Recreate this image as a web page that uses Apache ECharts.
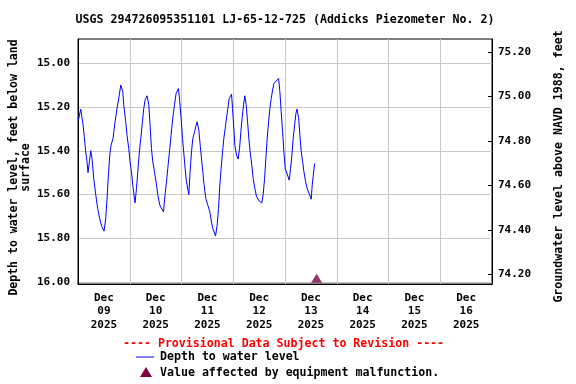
<!DOCTYPE html>
<html>
<head>
<meta charset="utf-8">
<script src="https://cdn.jsdelivr.net/npm/echarts@6/dist/echarts.min.js"></script>
<style>html,body{margin:0;padding:0;background:#fff;}#c{width:576px;height:384px;}</style>
</head>
<body>
<div id="c"></div>
<script>
// hours since 2025-12-09 00:00
const hours = [0.19,1.25,2.32,2.97,3.57,4.18,4.64,5.29,5.90,6.50,7.29,8.22,9.14,10.07,11.00,12.07,12.86,13.46,14.11,14.72,15.32,16.25,17.18,18.10,19.03,19.82,20.75,21.21,22.14,22.75,23.53,24.14,24.79,25.39,26.46,27.11,27.71,28.32,29.11,29.89,30.50,31.10,32.03,32.82,33.42,34.07,34.68,35.47,36.21,37.00,37.93,39.64,40.39,41.04,41.64,42.43,43.17,43.96,44.75,45.49,46.61,47.21,47.81,48.46,49.07,49.67,50.32,51.39,51.99,52.64,53.24,54.03,54.64,55.24,56.03,56.73,57.28,57.89,58.49,59.28,60.21,61.14,61.92,62.53,63.78,64.52,65.17,65.78,66.38,67.03,67.63,68.24,68.89,69.49,70.09,71.21,71.67,72.28,72.74,73.53,74.27,74.92,75.53,76.13,76.78,77.38,77.99,78.64,79.24,79.84,80.63,81.24,82.03,82.81,84.11,85.27,85.88,86.53,87.13,87.74,88.39,88.99,89.60,90.25,90.85,93.03,93.63,94.24,94.89,95.49,96.09,97.95,98.60,99.20,99.81,100.46,101.06,101.53,102.32,102.92,103.53,104.18,104.78,105.57,106.30,108.16,108.62,109.74];
const depth = [15.26,15.21,15.28,15.34,15.405,15.45,15.50,15.45,15.40,15.435,15.527,15.60,15.664,15.71,15.745,15.767,15.71,15.62,15.51,15.42,15.375,15.344,15.268,15.207,15.154,15.10,15.13,15.19,15.268,15.33,15.39,15.45,15.496,15.557,15.638,15.573,15.50,15.42,15.344,15.268,15.207,15.169,15.149,15.19,15.283,15.39,15.45,15.496,15.542,15.60,15.648,15.679,15.60,15.542,15.48,15.405,15.33,15.25,15.19,15.139,15.116,15.177,15.25,15.344,15.41,15.48,15.542,15.60,15.496,15.405,15.344,15.314,15.29,15.268,15.306,15.38,15.436,15.496,15.557,15.618,15.648,15.679,15.725,15.755,15.789,15.74,15.664,15.557,15.48,15.405,15.344,15.30,15.25,15.207,15.162,15.142,15.207,15.30,15.375,15.42,15.438,15.39,15.314,15.25,15.19,15.149,15.19,15.268,15.344,15.405,15.466,15.527,15.573,15.61,15.63,15.638,15.60,15.527,15.436,15.344,15.268,15.207,15.162,15.123,15.093,15.07,15.131,15.222,15.314,15.405,15.48,15.534,15.48,15.42,15.344,15.283,15.23,15.21,15.25,15.33,15.405,15.45,15.496,15.542,15.573,15.621,15.557,15.458];
const malfunctionHours = [110.67];
const malfunctionDepth = [16.0];
const leftTicks = [15.00,15.20,15.40,15.60,15.80,16.00];
const rightTicks = [74.20,74.40,74.60,74.80,75.00,75.20];
const dayLabels = ['09','10','11','12','13','14','15','16'];

const FONT = 'DejaVu Sans Mono';
const chart = echarts.init(document.getElementById('c'), null, {renderer:'canvas'});
const lineData = hours.map((h,i)=>[h, depth[i]]);
const malData = malfunctionHours.map((h,i)=>[h, malfunctionDepth[i]]);

chart.setOption({
  animation:false,
  backgroundColor:'#fff',
  title:{text:'USGS 294726095351101 LJ-65-12-725 (Addicks Piezometer No. 2)', left:280, textAlign:'center', top:9,
    textStyle:{fontFamily:FONT, fontSize:11.6, fontWeight:'bold', color:'#000'}},
  grid:{left:78, right:84, top:39, bottom:100, show:true, borderColor:'#000', borderWidth:1, containLabel:false, outerBoundsMode:'none'},
  xAxis:[
    {type:'value', min:0, max:192, interval:24, position:'bottom',
     axisLine:{show:true, lineStyle:{color:'#000'}}, axisTick:{show:false}, axisLabel:{show:false},
     splitLine:{show:true, lineStyle:{color:'#c8c8c8', width:1}}},
    {type:'value', min:0, max:192, interval:12, position:'bottom',
     axisLine:{show:false}, axisTick:{show:false}, splitLine:{show:false},
     axisLabel:{show:true, margin:7, fontFamily:FONT, fontSize:11, fontWeight:'bold', color:'#000', lineHeight:13.5,
       formatter:function(v){ if (Math.round(v)%24!==12) return ''; const d=Math.floor(v/24); return 'Dec\n'+dayLabels[d]+'\n2025'; }}}
  ],
  yAxis:[
    {type:'value', inverse:true, min:14.89, max:16.008, position:'left',
     axisLine:{show:true, lineStyle:{color:'#000'}},
     axisTick:{show:false, customValues:leftTicks},
     axisLabel:{customValues:leftTicks, margin:8, fontFamily:FONT, fontSize:11, fontWeight:'bold', color:'#000', formatter:v=>v.toFixed(2)},
     splitLine:{show:true, lineStyle:{color:'#c8c8c8', width:1}},
     name:'Depth to water level, feet below land\nsurface', nameLocation:'middle', nameRotate:90, nameGap:46, nameMoveOverlap:false,
     nameTextStyle:{fontFamily:FONT, fontSize:11.5, fontWeight:'bold', color:'#000', lineHeight:12, align:'center', padding:[0,12,0,0]}},
    {type:'value', min:74.156, max:75.259, position:'right',
     axisLine:{show:true, onZero:false, lineStyle:{color:'#000'}},
     axisTick:{show:true, inside:true, length:4, customValues:rightTicks, lineStyle:{color:'#000'}},
     axisLabel:{customValues:rightTicks, margin:6, fontFamily:FONT, fontSize:11, fontWeight:'bold', color:'#000', formatter:v=>v.toFixed(2)},
     splitLine:{show:false},
     name:'Groundwater level above NAVD 1988, feet', nameLocation:'middle', nameRotate:90, nameGap:61, nameMoveOverlap:false,
     nameTextStyle:{fontFamily:FONT, fontSize:11.6, fontWeight:'bold', color:'#000', padding:[0,10,0,0]}}
  ],
  series:[
    {type:'line', xAxisIndex:0, yAxisIndex:0, data:lineData, showSymbol:false, symbol:'none',
     lineStyle:{color:'#0000ff', width:1}, z:3},
    {type:'scatter', xAxisIndex:0, yAxisIndex:0, data:malData, symbol:'triangle', symbolSize:[11,9], symbolOffset:[0,-4],
     itemStyle:{color:'#800040'}, z:4}
  ],
  graphic:[
    {type:'text', left:123, top:338, style:{text:'---- Provisional Data Subject to Revision ----', fill:'#ff0000', font:'bold 11.6px '+FONT}},
    {type:'line', shape:{x1:136, y1:357, x2:154, y2:357}, style:{stroke:'#0000ff', lineWidth:1}},
    {type:'text', left:160, top:351, style:{text:'Depth to water level', fill:'#000', font:'bold 11.6px '+FONT}},
    {type:'polygon', shape:{points:[[146,367],[140,377],[152,377]]}, style:{fill:'#800040'}},
    {type:'text', left:160, top:367, style:{text:'Value affected by equipment malfunction.', fill:'#000', font:'bold 11.6px '+FONT}}
  ]
});
</script>
</body>
</html>
